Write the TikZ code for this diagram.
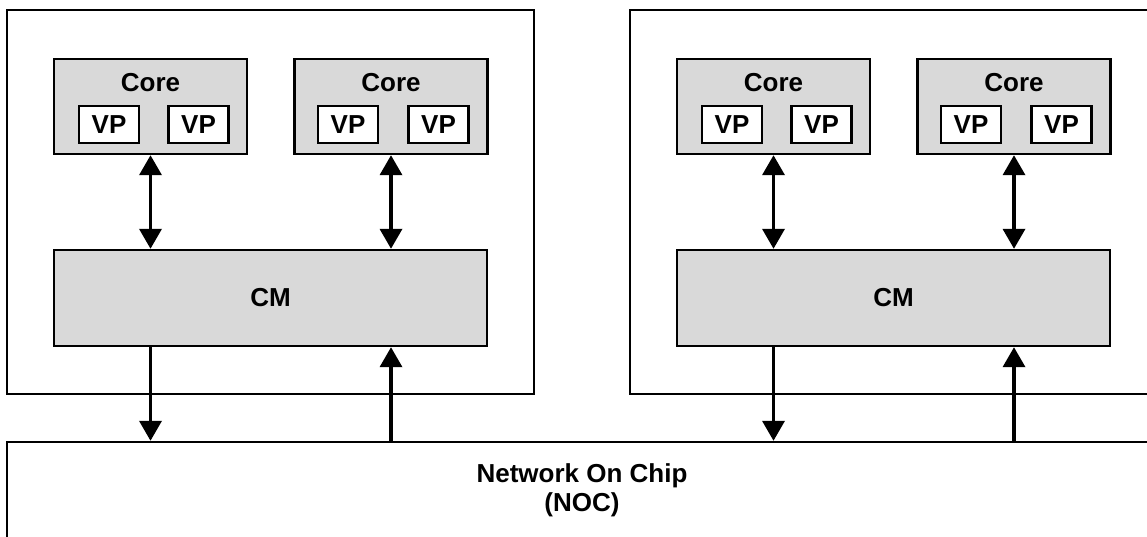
\documentclass[tikz,border=0pt]{standalone}
\usepackage{fontspec}
\setmainfont{Liberation Sans}
\usetikzlibrary{arrows.meta}

\begin{document}
\begin{tikzpicture}[x=1pt, y=-1pt,
  every node/.style={font=\fontsize{26}{29}\selectfont\bfseries, inner sep=0pt},
  box/.style={draw, line width=2.4pt},
  chipbox/.style={box, minimum width=527pt, minimum height=384pt},
  corebox/.style={box, fill=gray!30, minimum width=193pt, minimum height=95pt},
  vpbox/.style={box, fill=white, minimum width=60pt, minimum height=37pt},
  cmbox/.style={box, fill=gray!30, minimum width=433pt, minimum height=96pt},
  link/.style={line width=3.6pt},
  >={Triangle[width=22pt,length=20pt]}
]
\clip (0,0) rectangle (1147,536);
\node[box, minimum width=1150pt, minimum height=96pt, align=center] (noc) at (582,490) {Network On Chip\\(NOC)};
\foreach \s/\n in {0/L,623/R}{
  \node[chipbox] (chip\n) at (270.5+\s,202) {};
  \node[corebox] (core\n1) at (150.5+\s,106.5) {};
  \node[corebox] (core\n2) at (391+\s,106.5) {};
  \node (core\n1t) at (150.5+\s,83) {Core};
  \node (core\n2t) at (391+\s,83) {Core};
  \node[vpbox] (vp\n1) at (109+\s,124.5) {VP};
  \node[vpbox] (vp\n2) at (198.5+\s,124.5) {VP};
  \node[vpbox] (vp\n3) at (348+\s,124.5) {VP};
  \node[vpbox] (vp\n4) at (438.5+\s,124.5) {VP};
  \node[cmbox] (cm\n) at (270.5+\s,298) {CM};
  \draw[link, <->] (core\n1.south) -- (core\n1.south |- cm\n.north);
  \draw[link, <->] (core\n2.south) -- (core\n2.south |- cm\n.north);
  \draw[link, ->] (core\n1.south |- cm\n.south) -- (core\n1.south |- noc.north);
  \draw[link, <-] (core\n2.south |- cm\n.south) -- (core\n2.south |- noc.north);
}
\end{tikzpicture}
\end{document}
